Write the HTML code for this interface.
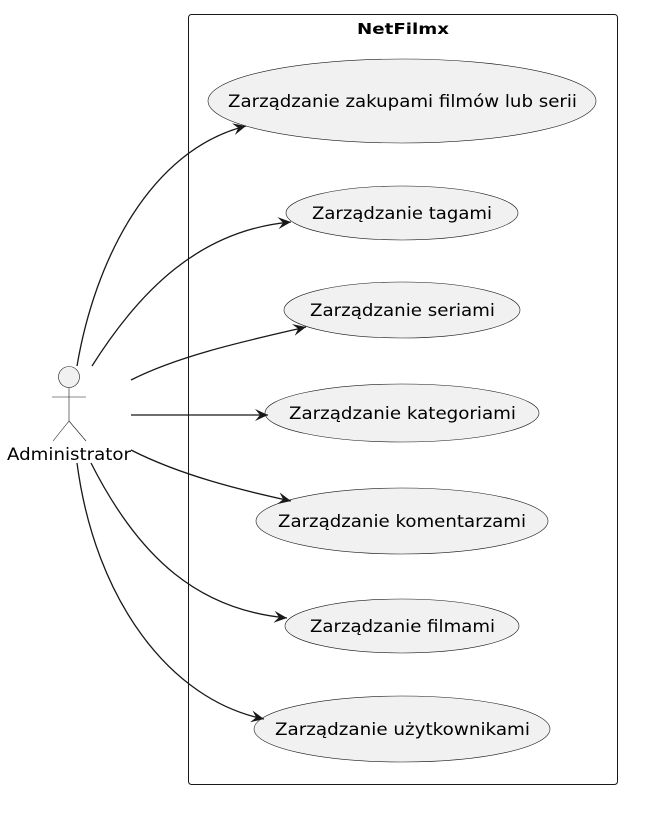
<!DOCTYPE html>
<html><head><meta charset="utf-8"><style>body{margin:0;background:#fff}svg{display:block}</style></head><body>
<svg width="657" height="832" viewBox="0 0 657 832" xmlns="http://www.w3.org/2000/svg" font-family="DejaVu Sans, Liberation Sans, sans-serif">
<defs><marker id="a" markerWidth="14" markerHeight="12" refX="13" refY="6" orient="auto" markerUnits="userSpaceOnUse"><path d="M0,0 L13,6 L0,12 L5,6 Z" fill="#181818"/></marker></defs>
<rect x="188.5" y="14.5" width="429" height="770" rx="3" fill="none" stroke="#181818" stroke-width="1"/>
<text x="357" y="34" font-weight="bold" font-size="15" textLength="92" lengthAdjust="spacingAndGlyphs">NetFilmx</text>
<g fill="#f1f1f1" stroke="#181818" stroke-width="0.6">
<ellipse cx="402" cy="101" rx="194" ry="42"/>
<ellipse cx="402" cy="213" rx="116" ry="27"/>
<ellipse cx="402" cy="310" rx="118" ry="28"/>
<ellipse cx="402" cy="413" rx="137" ry="29"/>
<ellipse cx="402" cy="521" rx="146" ry="33"/>
<ellipse cx="402" cy="626" rx="117" ry="27"/>
<ellipse cx="402" cy="729" rx="148" ry="33"/>
</g>
<g font-size="17" fill="#000" lengthAdjust="spacingAndGlyphs">
<text x="228" y="107" textLength="349" lengthAdjust="spacingAndGlyphs">Zarządzanie zakupami filmów lub serii</text>
<text x="312" y="219" textLength="180" lengthAdjust="spacingAndGlyphs">Zarządzanie tagami</text>
<text x="310" y="316" textLength="185" lengthAdjust="spacingAndGlyphs">Zarządzanie seriami</text>
<text x="289" y="419" textLength="227" lengthAdjust="spacingAndGlyphs">Zarządzanie kategoriami</text>
<text x="278" y="527" textLength="248" lengthAdjust="spacingAndGlyphs">Zarządzanie komentarzami</text>
<text x="310" y="632" textLength="185" lengthAdjust="spacingAndGlyphs">Zarządzanie filmami</text>
<text x="275" y="735" textLength="255" lengthAdjust="spacingAndGlyphs">Zarządzanie użytkownikami</text>
</g>
<g stroke="#181818" stroke-width="1.3" fill="none" marker-end="url(#a)">
<path d="M77,366 C95,260 150,150 246,126"/>
<path d="M92,366 C140,290 200,230 291,222"/>
<path d="M131,380 C180,355 250,340 306,327"/>
<path d="M131,415 L268,415"/>
<path d="M131,450 C180,475 240,490 291,501"/>
<path d="M91,463 C140,560 200,610 287,618"/>
<path d="M77,463 C95,600 170,700 264,719"/>
</g>
<g stroke="#181818" stroke-width="0.6" fill="#f1f1f1">
<circle cx="69" cy="377" r="10.5"/>
<path d="M69,387.5 V421 M52,397 H86 M69,421 L53,441 M69,421 L86,441" fill="none"/>
</g>
<text x="7" y="460" font-size="17" textLength="124" lengthAdjust="spacingAndGlyphs">Administrator</text>
</svg>
</body></html>
